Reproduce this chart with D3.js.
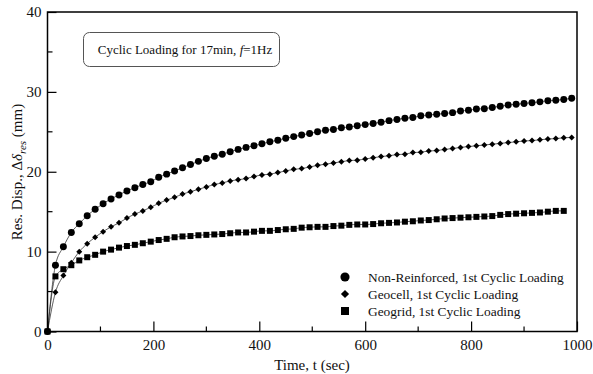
<!DOCTYPE html>
<html>
<head>
<meta charset="utf-8">
<script src="https://cdn.jsdelivr.net/npm/d3@7"></script>
<style>
  html, body { margin: 0; padding: 0; background: #fff; }
  svg { display: block; }
  svg text { font-family: "Liberation Serif", "DejaVu Serif", serif; }
</style>
</head>
<body>
<svg id="chart" width="593" height="374"></svg>
<script>
// Elapsed time of each reading (s)
const timeSec = [0, 15, 30, 45, 60, 75, 90, 105, 120, 135, 150, 165, 180, 195, 210, 225, 240, 255, 270, 285,
  300, 315, 330, 345, 360, 375, 390, 405, 420, 435, 450, 465, 480, 495, 510, 525, 540, 555, 570, 585,
  600, 615, 630, 645, 660, 675, 690, 705, 720, 735, 750, 765, 780, 795, 810, 825, 840, 855, 870, 885,
  900, 915, 930, 945, 960, 975, 990];

// Residual displacement (mm)
const nonReinforced = [0, 8.3, 10.6, 12.4, 13.5, 14.5, 15.3, 16.0, 16.6, 17.1, 17.6, 18.0, 18.4, 18.75, 19.3, 19.7, 20.1, 20.5, 20.9, 21.3,
  21.65, 21.95, 22.2, 22.5, 22.8, 23.05, 23.25, 23.5, 23.75, 23.95, 24.2, 24.4, 24.6, 24.8, 25.0, 25.2, 25.3, 25.5, 25.6, 25.75,
  25.9, 26.05, 26.2, 26.4, 26.55, 26.7, 26.8, 27.0, 27.1, 27.2, 27.3, 27.4, 27.6, 27.7, 27.85, 27.9, 28.05, 28.2, 28.35, 28.45,
  28.55, 28.65, 28.75, 28.9, 28.95, 29.05, 29.2];

const geocell = [0, 4.9, 7.0, 8.6, 10.0, 11.0, 11.8, 12.5, 13.1, 13.6, 14.2, 14.7, 15.1, 15.55, 16.05, 16.45, 16.8, 17.2, 17.5, 17.8,
  18.1, 18.4, 18.6, 18.85, 19.0, 19.15, 19.4, 19.6, 19.7, 19.9, 20.1, 20.3, 20.4, 20.6, 20.8, 20.95, 21.1, 21.25, 21.4, 21.45,
  21.6, 21.75, 21.9, 22.0, 22.15, 22.2, 22.4, 22.45, 22.6, 22.65, 22.8, 22.9, 23.05, 23.15, 23.25, 23.35, 23.45, 23.55, 23.65, 23.75,
  23.85, 23.9, 24.0, 24.1, 24.15, 24.25, 24.3];

const geogrid = [0, 6.9, 7.8, 8.3, 8.9, 9.3, 9.6, 10.0, 10.25, 10.5, 10.7, 10.85, 11.05, 11.25, 11.45, 11.6, 11.8, 11.9, 11.95, 12.05,
  12.1, 12.15, 12.2, 12.3, 12.4, 12.4, 12.5, 12.6, 12.6, 12.7, 12.8, 12.85, 13.0, 13.05, 13.1, 13.1, 13.2, 13.25, 13.35, 13.4,
  13.4, 13.45, 13.55, 13.6, 13.65, 13.75, 13.8, 13.9, 13.95, 14.05, 14.15, 14.2, 14.25, 14.3, 14.35, 14.4, 14.45, 14.6, 14.7, 14.75,
  14.8, 14.85, 14.9, 15.0, 15.1, 15.1];

const seriesNames = ["Non-Reinforced, 1st Cyclic Loading", "Geocell, 1st Cyclic Loading", "Geogrid, 1st Cyclic Loading"];
const xTicks = [0, 200, 400, 600, 800, 1000];
const yTicks = [0, 10, 20, 30, 40];

const svg = d3.select("#chart");
const plotLeft = 47.5, plotRight = 577, plotTop = 12, plotBottom = 331.5;

const x = d3.scaleLinear().domain([0, 1000]).range([plotLeft, plotRight]);
const y = d3.scaleLinear().domain([0, 40]).range([plotBottom, plotTop]);

// Diamond drawn as a square turned by 45 degrees
const series = [
  { name: seriesNames[0], values: nonReinforced, symbol: d3.symbolCircle, size: 38, legendSize: 66, rot: 0 },
  { name: seriesNames[1], values: geocell, symbol: d3.symbolSquare, size: 18, legendSize: 34, rot: 45 },
  { name: seriesNames[2], values: geogrid, symbol: d3.symbolSquare, size: 36, legendSize: 64, rot: 0 }
];

// Connecting curves
const line = d3.line().x(d => x(d[0])).y(d => y(d[1])).curve(d3.curveMonotoneX);
series.forEach(s => {
  const pts = s.values.map((v, i) => [timeSec[i], v]);
  svg.append("path").attr("d", line(pts))
    .attr("fill", "none").attr("stroke", "#333").attr("stroke-width", 0.8);
});

// Markers
series.forEach(s => {
  const sym = d3.symbol().type(s.symbol).size(s.size);
  svg.append("g").selectAll("path")
    .data(s.values.map((v, i) => [timeSec[i], v]))
    .join("path")
    .attr("d", sym)
    .attr("transform", d => `translate(${x(d[0])},${y(d[1])}) rotate(${s.rot})`)
    .attr("fill", "#000");
});

// Axes with inward ticks
const xMinor = d3.range(100, 1000, 200);
const yMinor = d3.range(5, 40, 10);

const gx = svg.append("g").attr("transform", `translate(0,${plotBottom})`)
  .call(d3.axisBottom(x).tickValues(xTicks).tickSize(-10).tickPadding(8).tickFormat(d3.format("d")));
gx.append("g").selectAll("line").data(xMinor).join("line")
  .attr("x1", d => x(d)).attr("x2", d => x(d)).attr("y1", 0).attr("y2", -5)
  .attr("stroke", "#000").attr("stroke-width", 1.2);

const gy = svg.append("g").attr("transform", `translate(${plotLeft},0)`)
  .call(d3.axisLeft(y).tickValues(yTicks).tickSize(-9).tickPadding(6).tickFormat(d3.format("d")));
gy.append("g").selectAll("line").data(yMinor).join("line")
  .attr("x1", 0).attr("x2", 5).attr("y1", d => y(d)).attr("y2", d => y(d))
  .attr("stroke", "#000").attr("stroke-width", 1.2);

[gx, gy].forEach(g => {
  g.attr("font-family", null).attr("font-size", null);
  g.select(".domain").remove();
  g.selectAll(".tick line").attr("stroke", "#000").attr("stroke-width", 1.2);
  g.selectAll(".tick text").attr("font-size", 15).attr("fill", "#111");
});

// Plot frame
svg.append("rect").attr("x", plotLeft).attr("y", plotTop).attr("width", plotRight - plotLeft).attr("height", plotBottom - plotTop)
  .attr("fill", "none").attr("stroke", "#000").attr("stroke-width", 1.5);

// Axis titles
svg.append("text").attr("x", 312).attr("y", 370).attr("text-anchor", "middle")
  .attr("font-size", 15).attr("fill", "#111").text("Time, t (sec)");

const yt = svg.append("text").attr("transform", "translate(22,172) rotate(-90)")
  .attr("text-anchor", "middle").attr("font-size", 15).attr("fill", "#111");
yt.append("tspan").text("Res. Disp.,\u00A0\u0394");
yt.append("tspan").attr("font-style", "italic").text("\u03B4");
yt.append("tspan").attr("font-style", "italic").attr("font-size", 11).attr("dy", 4).text("res");
yt.append("tspan").attr("dy", -4).text("\u00A0(mm)");

// Test condition note
svg.append("rect").attr("x", 83.5).attr("y", 32.5).attr("width", 196).attr("height", 34)
  .attr("rx", 6).attr("ry", 6).attr("fill", "#fff").attr("stroke", "#555").attr("stroke-width", 1);
const note = svg.append("text").attr("x", 185).attr("y", 54).attr("text-anchor", "middle")
  .attr("font-size", 13).attr("fill", "#111");
note.append("tspan").text("Cyclic Loading for 17min,\u00A0");
note.append("tspan").attr("font-style", "italic").text("f");
note.append("tspan").text("=1Hz");

// Legend
const legend = svg.append("g");
series.forEach((s, i) => {
  const ly = 277 + i * 17;
  legend.append("path").attr("d", d3.symbol().type(s.symbol).size(s.legendSize)())
    .attr("transform", `translate(345,${ly}) rotate(${s.rot})`).attr("fill", "#000");
  legend.append("text").attr("x", 368).attr("y", ly + 4.5)
    .attr("font-size", 13.4).attr("fill", "#111").text(s.name);
});
</script>
</body>
</html>
